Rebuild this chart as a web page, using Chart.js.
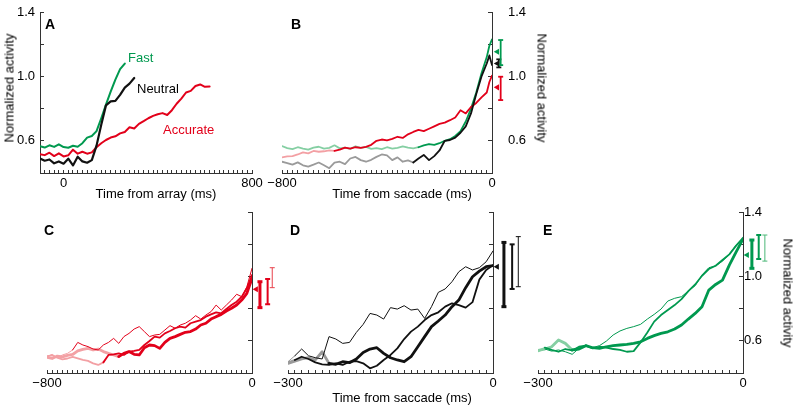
<!DOCTYPE html>
<html>
<head>
<meta charset="utf-8">
<script src="https://cdn.jsdelivr.net/npm/chart.js@4.4.1/dist/chart.umd.min.js"></script>
<style>
  body { margin: 0; background: #fff; }
  #fig { position: relative; width: 800px; height: 419px; overflow: hidden; font-family: 'Liberation Sans', Arial, sans-serif; }
  #fig canvas { position: absolute; left: 0; top: 0; }
  .txt { position: absolute; font-size: 13px; line-height: 13px; white-space: nowrap; color: #000; }
  .lbl { position: absolute; font-size: 14px; line-height: 14px; font-weight: bold; }
  .ctr { transform: translate(-50%, -50%); }
  .rotL { transform: translate(-50%, -50%) rotate(-90deg); }
  .rotR { transform: translate(-50%, -50%) rotate(90deg); }
</style>
</head>
<body>
<div id="fig">
  <canvas id="chartA" width="800" height="419"></canvas>
  <canvas id="chartB" width="800" height="419"></canvas>
  <canvas id="chartBe" width="800" height="419"></canvas>
  <canvas id="chartC" width="800" height="419"></canvas>
  <canvas id="chartCe" width="800" height="419"></canvas>
  <canvas id="chartD" width="800" height="419"></canvas>
  <canvas id="chartDe" width="800" height="419"></canvas>
  <canvas id="chartE" width="800" height="419"></canvas>
  <canvas id="chartEe" width="800" height="419"></canvas>

  <div class="lbl" style="left:45px;top:17px">A</div>
  <div class="lbl" style="left:291px;top:17px">B</div>
  <div class="lbl" style="left:44px;top:223px">C</div>
  <div class="lbl" style="left:290px;top:223px">D</div>
  <div class="lbl" style="left:543px;top:223px">E</div>

  <div class="txt" style="left:128px;top:51px;color:#00994f">Fast</div>
  <div class="txt" style="left:137px;top:82px">Neutral</div>
  <div class="txt" style="left:163px;top:123px;color:#e2001a">Accurate</div>

  <div class="txt rotL" style="left:9px;top:88px">Normalized activity</div>
  <div class="txt rotR" style="left:542px;top:88px">Normalized activity</div>
  <div class="txt rotR" style="left:788px;top:293px">Normalized activity</div>
  <div class="txt ctr" style="left:156px;top:193px">Time from array (ms)</div>
  <div class="txt ctr" style="left:402px;top:193px">Time from saccade (ms)</div>
  <div class="txt ctr" style="left:402px;top:397px">Time from saccade (ms)</div>
</div>
<script>
// panel A - aligned on array
const aTime = [-100,-80,-60,-40,-20,0,20,40,60,80,100,120,140,160,180,200,220,240,260,280,300,320,340,360,380,400,420,440,460,480,500,520,540,560,580,600,620];
const aFast = [0.567,0.558,0.572,0.562,0.578,0.561,0.557,0.569,0.563,0.585,0.62,0.63,0.66,0.74,0.825,0.905,0.98,1.045,1.08];
const aNeutral = [0.49,0.476,0.484,0.46,0.472,0.458,0.489,0.447,0.501,0.472,0.464,0.48,0.57,0.7,0.82,0.845,0.848,0.885,0.93,0.955,0.99];
const aAccurate = [0.517,0.511,0.526,0.505,0.522,0.503,0.51,0.545,0.52,0.532,0.52,0.528,0.56,0.585,0.605,0.62,0.628,0.646,0.655,0.684,0.676,0.705,0.722,0.74,0.755,0.765,0.772,0.76,0.79,0.83,0.862,0.9,0.91,0.94,0.95,0.935,0.938];

// panel B - aligned on saccade
const bTime = [-800,-780,-760,-740,-720,-700,-680,-660,-640,-620,-600,-580,-560,-540,-520,-500,-480,-460,-440,-420,-400,-380,-360,-340,-320,-300,-280,-260,-240,-220,-200,-180,-160,-140,-120,-100,-80,-60,-40,-20,-10,0];
const bFast = [0.567,0.555,0.548,0.56,0.552,0.545,0.558,0.563,0.552,0.556,0.572,0.553,0.558,0.55,0.566,0.556,0.562,0.55,0.555,0.548,0.56,0.552,0.556,0.565,0.558,0.553,0.56,0.572,0.58,0.575,0.585,0.6,0.61,0.63,0.66,0.72,0.8,0.9,1.02,1.12,1.19,1.23];
const bNeutral = [0.47,0.462,0.452,0.466,0.448,0.44,0.452,0.465,0.448,0.43,0.465,0.47,0.455,0.49,0.5,0.48,0.47,0.482,0.5,0.515,0.51,0.48,0.497,0.47,0.478,0.465,0.49,0.512,0.48,0.505,0.54,0.6,0.605,0.62,0.65,0.69,0.77,0.89,1.0,1.08,1.13,1.07];
const bAccurate = [0.497,0.503,0.505,0.515,0.528,0.522,0.537,0.532,0.535,0.54,0.538,0.545,0.558,0.552,0.56,0.556,0.562,0.575,0.6,0.608,0.603,0.612,0.625,0.618,0.64,0.655,0.668,0.66,0.675,0.69,0.705,0.713,0.728,0.745,0.79,0.77,0.81,0.835,0.87,0.9,0.965,1.005];
// fast, neutral, accurate
const bMean = [1.153, 1.08, 0.932];
const bLo = [1.07, 1.056, 0.853];
const bHi = [1.226, 1.106, 0.998];

// panel C - accurate
const cTime = [-800,-780,-760,-740,-720,-700,-680,-660,-640,-620,-600,-580,-560,-540,-520,-500,-480,-460,-440,-420,-400,-380,-360,-340,-320,-300,-280,-260,-240,-220,-200,-180,-160,-140,-120,-100,-80,-60,-40,-20,0];
const cThin = [0.502,0.516,0.495,0.512,0.522,0.543,0.59,0.574,0.564,0.549,0.543,0.574,0.59,0.615,0.584,0.626,0.646,0.673,0.688,0.657,0.626,0.636,0.64,0.667,0.694,0.678,0.698,0.709,0.729,0.756,0.735,0.76,0.781,0.822,0.791,0.822,0.853,0.889,0.874,0.936,1.05];
const cMedium = [0.505,0.51,0.495,0.485,0.49,0.5,0.491,0.481,0.475,0.46,0.45,0.466,0.512,0.516,0.522,0.512,0.533,0.537,0.543,0.574,0.599,0.626,0.62,0.646,0.661,0.678,0.688,0.682,0.709,0.719,0.729,0.75,0.764,0.777,0.771,0.798,0.822,0.843,0.874,0.926,1.009];
const cThick = [0.498,0.49,0.505,0.5,0.51,0.515,0.537,0.547,0.553,0.543,0.549,0.533,0.522,0.512,0.502,0.522,0.533,0.516,0.512,0.557,0.574,0.57,0.553,0.59,0.615,0.626,0.64,0.653,0.657,0.673,0.698,0.709,0.735,0.75,0.764,0.785,0.802,0.822,0.853,0.895,0.988];
// thick, medium, thin
const cMean = [0.92];
const cLo = [0.806, 0.827, 0.93];
const cHi = [0.967, 0.984, 1.054];

// panel D - neutral
const dTime = [-300,-290,-280,-270,-260,-250,-240,-230,-220,-210,-200,-190,-180,-170,-160,-150,-140,-130,-120,-110,-100,-90,-80,-70,-60,-50,-40,-30,-20,-10,0];
const dThin = [0.47,0.507,0.549,0.507,0.495,0.487,0.626,0.611,0.584,0.59,0.652,0.702,0.77,0.76,0.735,0.806,0.797,0.818,0.791,0.797,0.739,0.812,0.901,0.922,0.967,1.029,1.06,1.04,1.054,1.091,1.158];
const dMedium = [0.465,0.481,0.501,0.487,0.466,0.454,0.45,0.46,0.45,0.47,0.474,0.46,0.429,0.445,0.481,0.512,0.553,0.611,0.657,0.688,0.729,0.76,0.777,0.812,0.833,0.822,0.806,0.84,0.98,1.04,1.07];
const dThick = [0.46,0.474,0.487,0.495,0.481,0.532,0.46,0.454,0.47,0.464,0.487,0.528,0.549,0.557,0.522,0.495,0.481,0.47,0.501,0.563,0.626,0.688,0.723,0.76,0.812,0.853,0.93,0.998,1.033,1.06,1.067];
const dMean = [1.06];
const dLo = [0.812, 0.922, 0.936];
const dHi = [1.211, 1.199, 1.247];

// panel E - fast
const eTime = [-300,-290,-280,-270,-260,-250,-240,-230,-220,-210,-200,-190,-180,-170,-160,-150,-140,-130,-120,-110,-100,-90,-80,-70,-60,-50,-40,-30,-20,-10,0];
const eThin = [0.532,0.549,0.536,0.543,0.532,0.516,0.553,0.574,0.557,0.57,0.598,0.636,0.661,0.677,0.688,0.702,0.735,0.764,0.797,0.847,0.864,0.874,0.909,0.942,1.008,1.054,1.066,1.095,1.137,1.195,1.236];
const eMedium = [0.536,0.557,0.543,0.532,0.549,0.54,0.563,0.57,0.553,0.563,0.557,0.549,0.543,0.532,0.536,0.59,0.652,0.719,0.76,0.791,0.822,0.859,0.909,0.95,1.004,1.046,1.066,1.102,1.137,1.191,1.24];
const eThick = [0.54,0.549,0.563,0.605,0.584,0.543,0.549,0.57,0.557,0.553,0.563,0.57,0.574,0.578,0.584,0.594,0.615,0.632,0.646,0.656,0.673,0.698,0.735,0.77,0.812,0.915,0.95,0.977,1.07,1.153,1.232];
const eMean = [1.133];
const eLo = [1.05, 1.108, 1.095];
const eHi = [1.226, 1.257, 1.257];

// tick labels
const yLabels = [0.6, 1.0, 1.4];
const aXLabels = [0, 800];
const bXLabels = [-800, 0];
const dXLabels = [-300, 0];

Chart.defaults.font.family = "'Liberation Sans', Arial, sans-serif";
Chart.defaults.font.size = 13;
Chart.defaults.color = '#000';
Chart.defaults.animation = false;

const RED = '#e2001a', PINK = '#f3a0a4', GREEN = '#00994f', LIGHTGREEN = '#85cfa3';
const BLACK = '#111', GRAY = '#9a9a9a', AXIS = '#333';
// negative length = ticks point into the plot
const TICK = -3;

function pts(xs, ys) {
    return ys.map((y, i) => ({ x: xs[i], y: y }));
}

// a trace whose first part (before split) is drawn in a paler colour
function trace(xs, ys, color, width, early, split) {
    let ds = {
        data: pts(xs, ys),
        borderColor: color,
        borderWidth: width,
        pointRadius: 0,
        borderJoinStyle: 'round',
        borderCapStyle: 'round'
    };
    if (early) {
        ds.segment = { borderColor: c => c.p0.parsed.x < split ? early : color };
    }
    return ds;
}

function fmtMs(v) {
    return v < 0 ? '\u2212' + Math.abs(v) : String(v);
}

function panel(id, p) {
    return new Chart(document.getElementById(id), {
        type: 'line',
        data: { datasets: p.datasets },
        options: {
            responsive: false,
            events: [],
            layout: { padding: p.pad },
            plugins: { legend: { display: false }, tooltip: { enabled: false } },
            scales: {
                x: {
                    type: 'linear',
                    min: p.xMin,
                    max: p.xMax,
                    // fixed box size so the plot lands exactly where it should
                    afterFit: s => { s.height = 20; s.paddingLeft = 0; s.paddingRight = 0; },
                    border: { color: AXIS },
                    grid: { drawOnChartArea: false, tickLength: TICK, tickColor: AXIS },
                    ticks: {
                        stepSize: p.xStep, autoSkip: false, maxRotation: 0, padding: 6,
                        callback: v => p.xLabels.includes(Math.round(v)) ? fmtMs(Math.round(v)) : ''
                    }
                },
                y: {
                    position: p.yPos,
                    min: 0.4,
                    max: 1.4,
                    afterFit: s => { s.width = p.yWidth; s.paddingTop = 0; s.paddingBottom = 0; },
                    border: { color: AXIS },
                    grid: { drawOnChartArea: false, tickLength: TICK - 1, tickColor: AXIS },
                    ticks: {
                        stepSize: 0.2, padding: p.yPad,
                        callback: v => (p.showY && yLabels.includes(+v.toFixed(1))) ? v.toFixed(1) : ''
                    }
                }
            }
        }
    });
}

// error bars and mean markers, drawn in a narrow strip just right of the axis
function strip(id, s) {
    let sets = [];
    s.means.forEach((m, i) => {
        sets.push({
            data: [{ x: s.triX, y: m }],
            showLine: false,
            pointStyle: 'triangle',
            rotation: -90,
            pointRadius: 3.5,
            pointBackgroundColor: s.triColors[i],
            pointBorderWidth: 0,
            clip: false
        });
    });
    s.lo.forEach((lo, i) => {
        sets.push({
            data: [{ x: s.barX[i], y: lo }, { x: s.barX[i], y: s.hi[i] }],
            borderColor: s.colors[i],
            borderWidth: s.widths[i],
            pointStyle: 'line',
            pointRadius: 2.5,
            pointBorderColor: s.colors[i],
            pointBorderWidth: s.widths[i],
            clip: false
        });
    });
    return new Chart(document.getElementById(id), {
        type: 'line',
        data: { datasets: sets },
        options: {
            responsive: false,
            events: [],
            layout: { padding: s.pad },
            plugins: { legend: { display: false }, tooltip: { enabled: false } },
            scales: {
                x: { type: 'linear', display: false, min: 0, max: s.xMax },
                y: { display: false, min: 0.4, max: 1.4 }
            }
        }
    });
}

// A
panel('chartA', {
    pad: { left: 10, right: 548, top: 12, bottom: 226 },
    xMin: -100, xMax: 800, xStep: 20, xLabels: aXLabels,
    yPos: 'left', yWidth: 30, yPad: 9, showY: true,
    datasets: [
        trace(aTime, aNeutral, BLACK, 2.2),
        trace(aTime, aFast, GREEN, 2),
        trace(aTime, aAccurate, RED, 2)
    ]
});

// B
panel('chartB', {
    pad: { left: 282, right: 263, top: 12, bottom: 226 },
    xMin: -800, xMax: 0, xStep: 20, xLabels: bXLabels,
    yPos: 'right', yWidth: 45, yPad: 20, showY: true,
    datasets: [
        trace(bTime, bNeutral, BLACK, 1.8, GRAY, -300),
        trace(bTime, bAccurate, RED, 1.8, PINK, -600),
        trace(bTime, bFast, GREEN, 1.8, LIGHTGREEN, -280)
    ]
});
strip('chartBe', {
    pad: { left: 492, right: 288, top: 12, bottom: 246 },
    xMax: 20 / (210 / 800),
    triX: 20, means: bMean, triColors: [GREEN, BLACK, RED],
    barX: [33, 26, 33], lo: bLo, hi: bHi,
    colors: [GREEN, BLACK, RED], widths: [1.8, 1.8, 1.8]
});

// C
panel('chartC', {
    pad: { left: 47, right: 503, top: 212, bottom: 26 },
    xMin: -800, xMax: 0, xStep: 20, xLabels: bXLabels,
    yPos: 'right', yWidth: 45, yPad: 1, showY: false,
    datasets: [
        trace(cTime, cThin, RED, 1, PINK, -700),
        trace(cTime, cMedium, RED, 1.8, PINK, -580),
        trace(cTime, cThick, RED, 2.8, PINK, -520)
    ]
});
strip('chartCe', {
    pad: { left: 252, right: 518, top: 212, bottom: 46 },
    xMax: 30 / (205 / 800),
    triX: 16, means: cMean, triColors: [RED],
    barX: [31, 61, 79], lo: cLo, hi: cHi,
    colors: [RED, RED, '#e8414b'], widths: [3, 2, 1]
});

// D
panel('chartD', {
    pad: { left: 288, right: 262, top: 212, bottom: 26 },
    xMin: -300, xMax: 0, xStep: 10, xLabels: dXLabels,
    yPos: 'right', yWidth: 45, yPad: 1, showY: false,
    datasets: [
        trace(dTime, dThin, BLACK, 1, GRAY, -290),
        trace(dTime, dMedium, BLACK, 1.8, GRAY, -290),
        trace(dTime, dThick, BLACK, 2.8, GRAY, -240)
    ]
});
strip('chartDe', {
    pad: { left: 493, right: 277, top: 212, bottom: 46 },
    xMax: 30 / (205 / 300),
    triX: 6, means: dMean, triColors: [BLACK],
    barX: [16, 28, 37], lo: dLo, hi: dHi,
    colors: [BLACK, BLACK, BLACK], widths: [3, 2, 1]
});

// E
panel('chartE', {
    pad: { left: 538, right: 12, top: 212, bottom: 26 },
    xMin: -300, xMax: 0, xStep: 10, xLabels: dXLabels,
    yPos: 'right', yWidth: 45, yPad: 5, showY: true,
    datasets: [
        trace(eTime, eThin, GREEN, 1, LIGHTGREEN, -290),
        trace(eTime, eMedium, GREEN, 1.8, LIGHTGREEN, -290),
        trace(eTime, eThick, GREEN, 2.8, LIGHTGREEN, -250)
    ]
});
strip('chartEe', {
    pad: { left: 743, right: 27, top: 212, bottom: 46 },
    xMax: 30 / (205 / 300),
    triX: 6, means: eMean, triColors: [GREEN],
    barX: [13, 23, 32], lo: eLo, hi: eHi,
    colors: [GREEN, GREEN, '#4cb878'], widths: [3, 2, 1]
});
</script>
</body>
</html>
